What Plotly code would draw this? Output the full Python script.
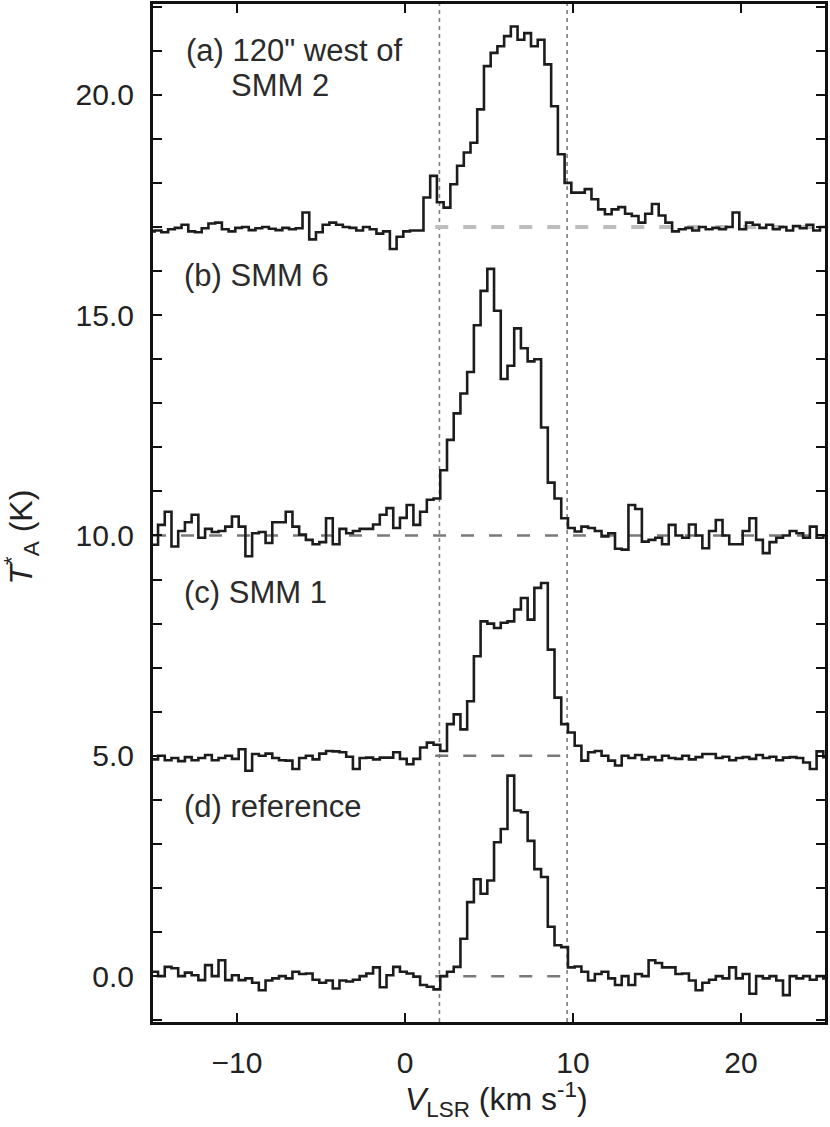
import numpy as np
import plotly.graph_objects as go

# ---------------- data ----------------
CHANNEL_WIDTH = 0.4          # km/s
V_START_A = -15.1            # first channel centre, spectrum (a)
V_START_BCD = -15.3          # first channel centre, spectra (b)-(d)

spec_a = [16.90, 16.92, 16.88, 16.95, 16.98, 17.05, 16.90, 16.88, 16.97, 17.08,
          17.10, 16.95, 16.90, 16.98, 17.00, 16.93, 16.97, 17.00, 16.96, 16.93,
          16.98, 16.95, 16.97, 17.33, 16.72, 16.88, 17.05, 17.10, 17.05, 17.00,
          16.98, 16.92, 17.00, 16.95, 16.85, 16.90, 16.50, 16.78, 16.90, 16.92,
          16.92, 17.67, 18.16, 17.56, 17.44, 17.97, 18.39, 18.69, 18.91, 19.67,
          20.65, 20.95, 21.10, 21.33, 21.55, 21.25, 21.40, 21.10, 21.25, 20.69,
          19.74, 18.65, 18.00, 17.78, 17.78, 17.86, 17.63, 17.40, 17.29, 17.40,
          17.45, 17.30, 17.25, 17.10, 17.30, 17.52, 17.26, 17.10, 16.90, 16.95,
          16.98, 16.92, 17.00, 16.95, 16.98, 16.95, 17.00, 17.33, 16.95, 17.10,
          17.05, 16.98, 17.05, 16.95, 17.00, 16.92, 17.02, 16.97, 17.05, 16.92,
          17.00, 16.95]

spec_b = [10.00, 9.79, 10.24, 10.54, 9.75, 10.10, 10.30, 10.47, 9.95, 10.15,
          10.08, 10.10, 10.20, 10.43, 10.20, 9.53, 10.05, 10.08, 9.83, 10.30,
          10.30, 10.54, 10.20, 10.02, 9.90, 9.80, 9.85, 10.39, 9.80, 10.15,
          10.05, 10.10, 10.15, 10.15, 10.25, 10.47, 10.62, 10.17, 10.40, 10.69,
          10.24, 10.54, 10.81, 10.84, 11.48, 12.17, 12.77, 13.22, 13.71, 14.77,
          15.55, 16.05, 15.10, 13.55, 13.85, 14.70, 14.25, 13.95, 14.00, 12.45,
          11.20, 10.84, 10.39, 10.17, 10.09, 10.20, 10.17, 10.10, 9.98, 10.05,
          9.70, 9.68, 10.69, 10.60, 9.86, 9.90, 9.95, 9.80, 10.24, 10.00,
          9.95, 10.25, 10.00, 9.71, 10.10, 10.35, 10.00, 9.80, 9.80, 10.10,
          10.39, 9.90, 9.60, 9.85, 9.95, 10.00, 10.10, 10.05, 9.95, 10.20,
          9.95, 10.00]

spec_c = [4.95, 4.92, 5.00, 4.90, 4.95, 4.88, 4.97, 4.90, 4.95, 5.02,
          4.90, 4.95, 5.00, 4.93, 5.15, 4.66, 5.04, 5.00, 5.05, 4.95,
          4.90, 4.89, 4.70, 4.95, 5.00, 4.92, 5.05, 5.11, 5.10, 5.08,
          4.98, 4.70, 4.95, 4.96, 4.92, 4.96, 4.96, 5.08, 4.93, 4.81,
          4.93, 5.19, 5.30, 5.25, 5.11, 5.72, 5.94, 5.60, 6.24, 7.26,
          8.05, 8.00, 7.90, 8.02, 8.05, 8.32, 8.58, 8.09, 8.81, 8.92,
          7.41, 6.32, 5.72, 5.53, 5.23, 4.89, 5.08, 5.11, 5.00, 4.89,
          4.78, 5.00, 4.95, 5.02, 4.92, 4.97, 4.90, 5.00, 4.95, 4.93,
          5.00, 4.92, 4.97, 5.04, 5.04, 4.95, 4.98, 4.90, 4.95, 4.97,
          4.93, 5.02, 4.95, 4.98, 4.90, 4.96, 4.97, 4.95, 4.85, 4.70,
          5.10, 4.97]

spec_d = [0.05, 0.10, 0.00, 0.21, 0.18, 0.00, 0.08, 0.02, -0.09, 0.25,
          0.00, 0.36, -0.09, 0.02, -0.09, -0.05, -0.15, -0.32, -0.10, -0.05,
          0.00, -0.05, 0.10, 0.05, 0.06, -0.08, -0.15, -0.10, -0.28, -0.10,
          -0.12, -0.08, 0.00, 0.06, 0.20, -0.25, 0.02, 0.21, 0.10, 0.06,
          -0.01, -0.20, -0.24, -0.30, 0.00, 0.10, 0.21, 0.85, 1.68, 2.20,
          1.87, 2.17, 3.04, 3.34, 4.55, 3.76, 3.72, 3.07, 2.43, 2.25,
          1.12, 0.70, 0.66, 0.20, 0.22, 0.10, -0.10, 0.05, 0.10, -0.05,
          -0.20, 0.00, -0.20, 0.05, 0.00, 0.36, 0.30, 0.20, 0.20, 0.05,
          0.06, -0.10, -0.32, -0.15, -0.08, 0.00, -0.05, 0.20, -0.05, 0.05,
          -0.40, 0.00, -0.05, 0.00, -0.10, -0.43, 0.00, -0.05, 0.00, -0.08,
          0.00, -0.05]

BASELINES = [17.0, 10.0, 5.0, 0.0]
VLINES = [2.05, 9.65]
X_RANGE = [-15, 25]
Y_RANGE = [-1.04, 22.06]
X_TICKS = [-10, 0, 10, 20]
Y_TICKS = [0, 5, 10, 15, 20]
Y_LABELS = ["0.0", "5.0", "10.0", "15.0", "20.0"]
Y_MINOR_STEP = 1

PANEL_TEXT = ['(a) 120" west of', "SMM 2", "(b) SMM 6", "(c) SMM 1", "(d) reference"]
PANEL_POS = [(-13.15, 21.0, "left"), (-7.44, 20.2, "center"),
             (-13.27, 15.9, "left"), (-13.27, 8.71, "left"), (-13.27, 3.85, "left")]

# ---------------- figure ----------------
FONT = "Liberation Sans, Arial, Helvetica, sans-serif"
LINE_COL = "#1c1c1c"

def channels(start, n):
    return np.round(start + CHANNEL_WIDTH * np.arange(n), 3)

fig = go.Figure()
for start, spec in [(V_START_A, spec_a), (V_START_BCD, spec_b),
                    (V_START_BCD, spec_c), (V_START_BCD, spec_d)]:
    fig.add_trace(go.Scatter(x=channels(start, len(spec)), y=spec, mode="lines",
                             line=dict(shape="hvh", color=LINE_COL, width=2.6),
                             hoverinfo="skip", showlegend=False))

# vertical dotted lines
for v in VLINES:
    fig.add_shape(type="line", xref="x", yref="paper", x0=v, x1=v, y0=0, y1=1,
                  line=dict(color="#7f7f7f", width=1.6, dash="4px,4px"), layer="below")

# baselines
base_specs = [
    (BASELINES[0], 1.8, X_RANGE[1], "#bdbdbd", 4),
    (BASELINES[1], X_RANGE[0], X_RANGE[1], "#7a7a7a", 2.5),
    (BASELINES[2], 1.8, VLINES[1], "#7a7a7a", 2.5),
    (BASELINES[3], 1.8, VLINES[1], "#7a7a7a", 2.5),
]
for y, x0, x1, col, w in base_specs:
    fig.add_shape(type="line", xref="x", yref="y", x0=x0, x1=x1, y0=y, y1=y,
                  line=dict(color=col, width=w, dash="13px,15px"), layer="below")

for txt, (x, y, anc) in zip(PANEL_TEXT, PANEL_POS):
    fig.add_annotation(x=x, y=y, xref="x", yref="y", text=txt, showarrow=False,
                       xanchor=anc, yanchor="middle",
                       font=dict(family=FONT, size=31, color="#2b2b2b"))

# axis titles
fig.add_annotation(xref="paper", yref="paper", x=(21 - 153) / 672, y=1 - (536 - 1) / 1021,
                   text="<i>T</i><sup>*</sup><sub>A</sub> (K)", textangle=-90,
                   showarrow=False, xanchor="center", yanchor="middle",
                   font=dict(family=FONT, size=32, color="#222"))
fig.add_annotation(xref="paper", yref="paper", x=(496 - 153) / 672, y=-(1100 - 1022) / 1021,
                   text="<i>V</i><sub>LSR</sub> (km s<sup>-1</sup>)",
                   showarrow=False, xanchor="center", yanchor="middle",
                   font=dict(family=FONT, size=32, color="#222"))

fig.update_layout(
    width=830, height=1127,
    margin=dict(l=153, r=5, t=1, b=105),
    plot_bgcolor="white", paper_bgcolor="white",
    showlegend=False,
    font=dict(family=FONT, size=30, color="#222"),
)
fig.update_xaxes(range=X_RANGE, tickvals=X_TICKS, ticks="inside", ticklen=9,
                 tickwidth=2, tickcolor="#111", showline=True, linewidth=3,
                 linecolor="#111", mirror="ticks", showgrid=False, zeroline=False,
                 ticklabelstandoff=12, tickfont=dict(family=FONT, size=30, color="#222"))
fig.update_yaxes(range=Y_RANGE, tickvals=Y_TICKS, ticktext=Y_LABELS, ticks="inside",
                 ticklen=9, tickwidth=2, tickcolor="#111", showline=True, linewidth=3,
                 linecolor="#111", mirror="ticks", showgrid=False, zeroline=False,
                 minor=dict(dtick=Y_MINOR_STEP, tick0=0, ticks="inside", ticklen=9,
                            tickwidth=2, tickcolor="#111", showgrid=False),
                 ticklabelstandoff=10, tickfont=dict(family=FONT, size=30, color="#222"))

fig.write_html("out.html", config={"displayModeBar": False},
               post_script="document.body.style.margin='0px';")
